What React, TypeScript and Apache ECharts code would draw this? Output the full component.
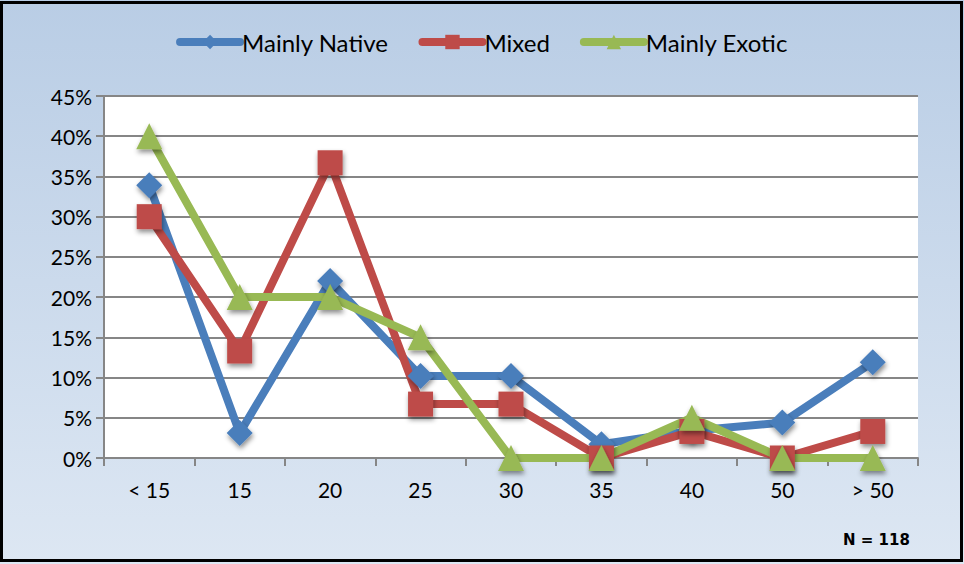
import React, { useEffect, useRef } from "react";
import * as echarts from "echarts";

const categories = ["< 15", "15", "20", "25", "30", "35", "40", "50", "> 50"];
const mainlyNative = [33.9, 3.1, 22.0, 10.2, 10.2, 1.7, 3.4, 4.4, 11.9];
const mixed = [30.0, 13.3, 36.7, 6.7, 6.7, 0, 3.3, 0, 3.3];
const mainlyExotic = [40, 20, 20, 15, 0, 0, 5, 0, 0];
const seriesNames = ["Mainly Native", "Mixed", "Mainly Exotic"];
const noteText = "N = 118";

const FONT = "Lato, 'Liberation Sans', sans-serif";

export default function App() {
  const ref = useRef<HTMLDivElement>(null);
  useEffect(() => {
    if (!ref.current) return;
    const chart = echarts.init(ref.current, null, { renderer: "svg" });
    const shadow = {
      shadowColor: "rgba(0,0,0,0.45)",
      shadowBlur: 5,
      shadowOffsetX: 1,
      shadowOffsetY: 3,
    };
    const mk = (name: string, data: number[], color: string, symbol: string, size: number) => ({
      name,
      type: "line",
      data,
      symbol,
      symbolSize: size,
      showAllSymbol: true,
      lineStyle: { color, width: 8 },
      itemStyle: { color, ...shadow },
      z: 2,
    });
    chart.setOption({
      animation: false,
      backgroundColor: {
        type: "linear",
        x: 0,
        y: 0,
        x2: 0,
        y2: 1,
        colorStops: [
          { offset: 0, color: "#b9cde5" },
          { offset: 1, color: "#dde7f3" },
        ],
      },
      textStyle: { fontFamily: FONT },
      legend: {
        top: 25,
        left: "center",
        itemWidth: 60,
        itemHeight: 18,
        itemGap: 30,
        lineStyle: { width: 8, cap: "round" },
        textStyle: { fontSize: 24, color: "#000", fontFamily: FONT, padding: [0, 0, 0, -3] },
        data: seriesNames,
      },
      grid: {
        left: 104,
        right: 46,
        top: 96,
        bottom: 106,
        show: true,
        backgroundColor: "#ffffff",
        borderWidth: 0,
      },
      xAxis: {
        type: "category",
        data: categories,
        boundaryGap: true,
        axisLine: { lineStyle: { color: "#868686", width: 2 } },
        axisTick: { show: true, length: 8, lineStyle: { color: "#868686", width: 2 } },
        axisLabel: { fontSize: 21, color: "#000", margin: 21, fontFamily: FONT },
      },
      yAxis: {
        type: "value",
        min: 0,
        max: 45,
        interval: 5,
        axisLine: { show: true, lineStyle: { color: "#868686", width: 2 } },
        axisTick: { show: true, length: 8, lineStyle: { color: "#868686", width: 2 } },
        splitLine: { lineStyle: { color: "#868686", width: 2 } },
        axisLabel: { fontSize: 21, color: "#000", margin: 12, formatter: "{value}%", fontFamily: FONT },
      },
      graphic: [
        {
          type: "rect",
          shape: { x: 1.5, y: 2.5, width: 960, height: 558 },
          style: { fill: "none", stroke: "#000", lineWidth: 3 },
          z: 100,
        },
        {
          type: "text",
          x: 843,
          y: 532,
          style: {
            text: noteText,
            fontSize: 15,
            fontWeight: "bold",
            fill: "#000",
            fontFamily: "'DejaVu Sans', sans-serif",
          },
        },
      ],
      series: [
        mk(seriesNames[0], mainlyNative, "#4a7ebb", "diamond", 26),
        mk(seriesNames[1], mixed, "#be4b48", "rect", 25),
        mk(seriesNames[2], mainlyExotic, "#98b954", "triangle", 26),
      ],
    });
    return () => chart.dispose();
  }, []);
  return <div ref={ref} style={{ width: 964, height: 564, position: "absolute", left: 0, top: 0 }} />;
}
